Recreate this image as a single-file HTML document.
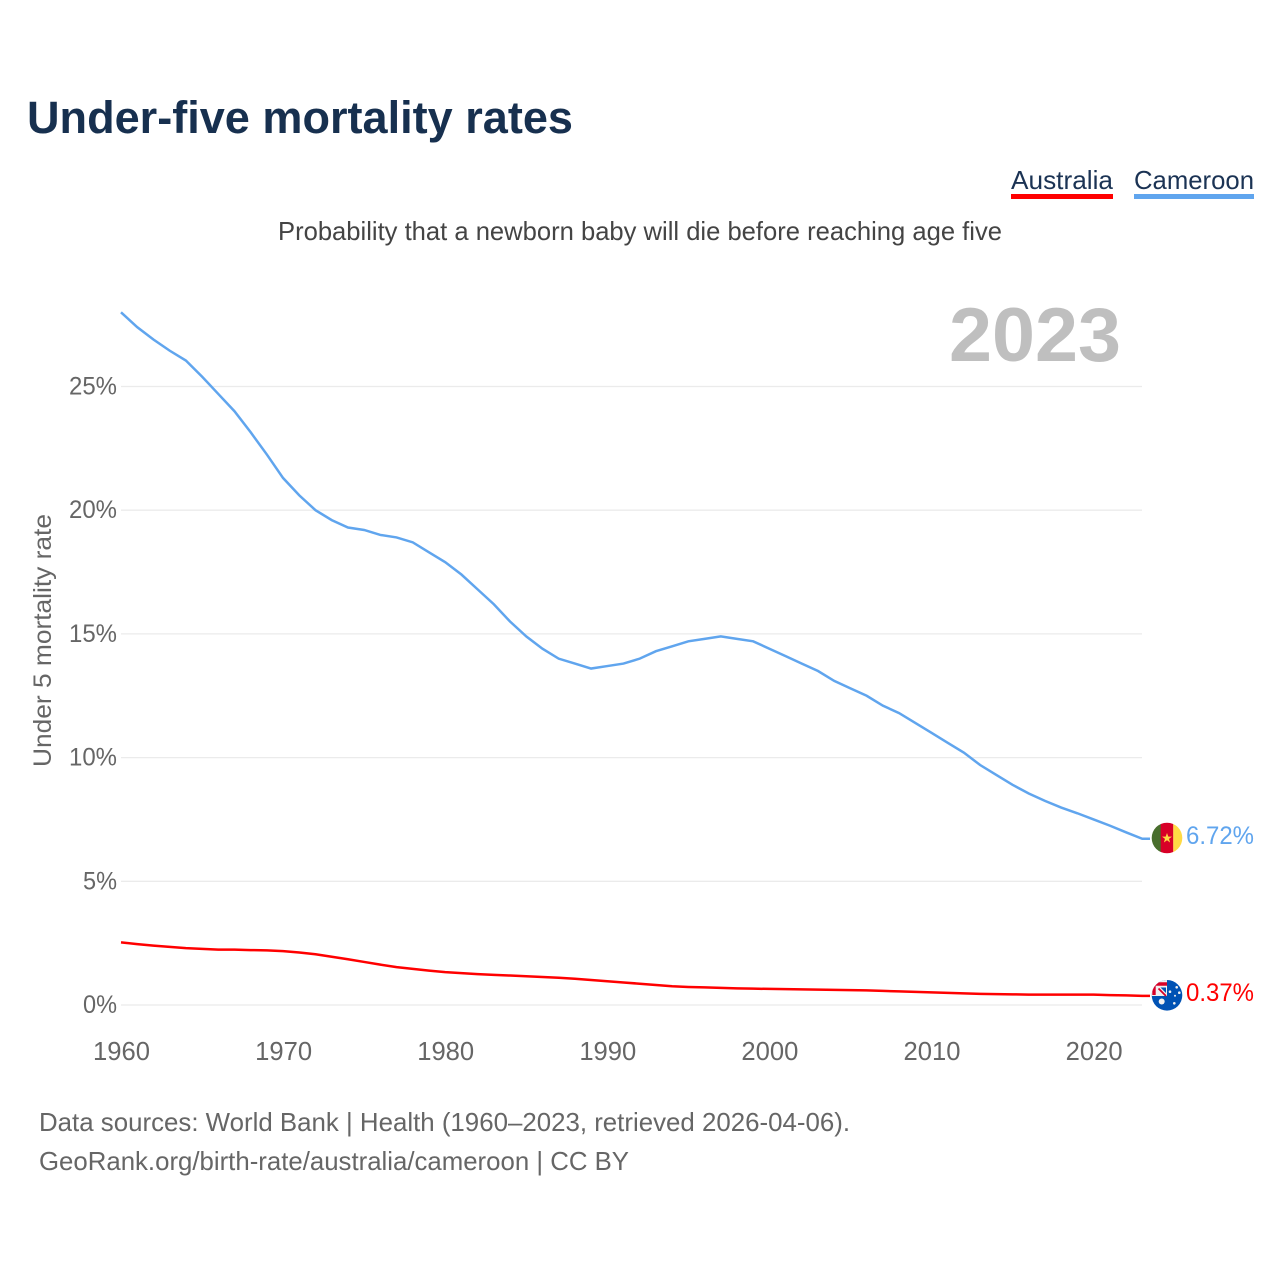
<!DOCTYPE html>
<html lang="en">
<head>
<meta charset="utf-8">
<title>Under-five mortality rates</title>
<style>
html,body{margin:0;padding:0;background:#fff;}
svg{display:block;}
text{font-family:"Liberation Sans",sans-serif;}
</style>
</head>
<body>
<svg id="chart" width="1280" height="1280" viewBox="0 0 1280 1280" xmlns="http://www.w3.org/2000/svg">
  <rect x="0" y="0" width="1280" height="1280" fill="#ffffff"/>
  <text x="27" y="133" font-size="45" font-weight="700" fill="#17304f" textLength="546" lengthAdjust="spacingAndGlyphs">Under-five mortality rates</text>

  <g>
    <text x="1011" y="189" font-size="26" fill="#1b3354" textLength="102" lengthAdjust="spacingAndGlyphs">Australia</text>
    <rect x="1011" y="194" width="102" height="5" fill="#ff0000"/>
  </g>
  <g>
    <text x="1134" y="189" font-size="26" fill="#1b3354" textLength="120" lengthAdjust="spacingAndGlyphs">Cameroon</text>
    <rect x="1134" y="194" width="120" height="5" fill="#60a5ee"/>
  </g>

  <text x="278" y="240" font-size="26" fill="#444444" textLength="724" lengthAdjust="spacingAndGlyphs">Probability that a newborn baby will die before reaching age five</text>

  <g id="grid"></g>
  <g id="yticks"></g>
  <g id="xticks"></g>

  <text transform="translate(51 767) rotate(-90)" x="0" y="0" font-size="25" fill="#666666" textLength="253" lengthAdjust="spacingAndGlyphs">Under 5 mortality rate</text>

  <text x="949" y="361" font-size="76" font-weight="700" fill="#bfbfbf" textLength="172" lengthAdjust="spacingAndGlyphs">2023</text>

  <g id="series"></g>

  <g>
    <clipPath id="clip-cm"><circle cx="1167" cy="838" r="15.3"/></clipPath>
    <g clip-path="url(#clip-cm)">
      <rect x="1151" y="822" width="10" height="32" fill="#496e2d"/>
      <rect x="1160.7" y="822" width="12.6" height="32" fill="#d80027"/>
      <rect x="1173.3" y="822" width="10" height="32" fill="#ffda44"/>
    </g>
    <polygon points="1167,833 1168.3,836.6 1172,836.6 1169,838.9 1170.1,842.5 1167,840.3 1163.9,842.5 1165,838.9 1162,836.6 1165.7,836.6" fill="#ffda44"/>
  </g>

  <g>
    <clipPath id="clip-au"><circle cx="1167" cy="995.3" r="15.3"/></clipPath>
    <g clip-path="url(#clip-au)">
      <rect x="1151" y="979" width="32" height="32" fill="#0052b4"/>
      <rect x="1151" y="979" width="16" height="17" fill="#f0f0f0"/>
      <path d="M1154 995 V984 H1167" stroke="#d80027" stroke-width="3.4" fill="none"/>
      <path d="M1158 988 H1165 V995 H1158 Z" fill="#f0f0f0"/>
      <path d="M1158.5 988.5 L1166 996" stroke="#d80027" stroke-width="1.8"/>
      <path d="M1160.5 987.5 L1166 993 V987.5 Z" fill="#0052b4"/>
    </g>
    <circle cx="1161.7" cy="1001.5" r="3" fill="#f0f0f0"/>
    <circle cx="1170" cy="991.7" r="1.3" fill="#f0f0f0"/>
    <circle cx="1176.7" cy="987.3" r="1.3" fill="#f0f0f0"/>
    <circle cx="1179.3" cy="992.7" r="1.3" fill="#f0f0f0"/>
    <circle cx="1174.3" cy="1003.3" r="1.3" fill="#f0f0f0"/>
    <circle cx="1175" cy="995.7" r="1" fill="#f0f0f0"/>
  </g>

  <text x="1186" y="844" font-size="25" fill="#60a5ee" textLength="68" lengthAdjust="spacingAndGlyphs">6.72%</text>
  <text x="1186" y="1001" font-size="25" fill="#ff0000" textLength="68" lengthAdjust="spacingAndGlyphs">0.37%</text>

  <text x="39" y="1131" font-size="26" fill="#666666" textLength="811" lengthAdjust="spacingAndGlyphs">Data sources: World Bank | Health (1960–2023, retrieved 2026-04-06).</text>
  <text x="39" y="1170" font-size="26" fill="#666666" textLength="590" lengthAdjust="spacingAndGlyphs">GeoRank.org/birth-rate/australia/cameroon | CC BY</text>
</svg>
<script>
const startYear = 1960;
const cameroonValues = [28.0,27.4,26.9,26.45,26.05,25.4,24.7,24.0,23.15,22.25,21.3,20.6,20.0,19.6,19.3,19.2,19.0,18.9,18.7,18.3,17.9,17.4,16.8,16.2,15.5,14.9,14.4,14.0,13.8,13.6,13.7,13.8,14.0,14.3,14.5,14.7,14.8,14.9,14.8,14.7,14.4,14.1,13.8,13.5,13.1,12.8,12.5,12.1,11.8,11.4,11.0,10.6,10.2,9.7,9.3,8.9,8.55,8.25,7.98,7.75,7.5,7.25,6.98,6.72];
const australiaValues = [2.53,2.46,2.40,2.35,2.30,2.27,2.24,2.24,2.22,2.21,2.18,2.12,2.05,1.95,1.85,1.74,1.63,1.53,1.46,1.39,1.33,1.29,1.25,1.22,1.19,1.16,1.13,1.10,1.06,1.01,0.96,0.91,0.86,0.81,0.76,0.73,0.71,0.69,0.67,0.66,0.65,0.64,0.63,0.62,0.61,0.60,0.59,0.57,0.55,0.53,0.51,0.49,0.47,0.45,0.44,0.43,0.42,0.42,0.42,0.42,0.42,0.40,0.39,0.37];
const yTickValues = [0,5,10,15,20,25];
const yTickLabels = ["0%","5%","10%","15%","20%","25%"];
const xTickValues = [1960,1970,1980,1990,2000,2010,2020];
const xTickLabels = ["1960","1970","1980","1990","2000","2010","2020"];

const NS = "http://www.w3.org/2000/svg";
const xScale = function (year) { return 121 + (year - 1960) * 16.21; };
const yScale = function (value) { return 1005 - value * 24.74; };

const gridGroup = document.getElementById("grid");
const yGroup = document.getElementById("yticks");
const xGroup = document.getElementById("xticks");
const seriesGroup = document.getElementById("series");

yTickValues.forEach(function (v, i) {
  const line = document.createElementNS(NS, "line");
  
  
  line.setAttribute("x1", 121);
  line.setAttribute("x2", 1142);
  line.setAttribute("y1", yScale(v));
  line.setAttribute("y2", yScale(v));
  line.setAttribute("stroke", "#ebebeb");
  line.setAttribute("stroke-width", "1.3");
  gridGroup.appendChild(line);

  const label = document.createElementNS(NS, "text");
  
  
  label.setAttribute("x", 117);
  label.setAttribute("y", yScale(v) + 8);
  label.setAttribute("text-anchor", "end");
  label.setAttribute("font-size", "25");
  label.setAttribute("fill", "#666666");
  label.setAttribute("textLength", 14 * yTickLabels[i].length + 6);
  label.setAttribute("lengthAdjust", "spacingAndGlyphs");
  label.textContent = yTickLabels[i];
  yGroup.appendChild(label);
});

xTickValues.forEach(function (v, i) {
  const label = document.createElementNS(NS, "text");
  
  
  label.setAttribute("x", xScale(v) + 0.5);
  label.setAttribute("y", 1060);
  label.setAttribute("text-anchor", "middle");
  label.setAttribute("font-size", "25.6");
  label.setAttribute("fill", "#666666");
  label.textContent = xTickLabels[i];
  xGroup.appendChild(label);
});

function linePath(values) {
  let d = values.map(function (v, i) {
    return (i ? "L" : "M") + xScale(startYear + i).toFixed(2) + " " + yScale(v).toFixed(2);
  }).join(" ");
  d += " H1150";
  return d;
}

const australiaLine = document.createElementNS(NS, "path");


australiaLine.setAttribute("d", linePath(australiaValues));
australiaLine.setAttribute("fill", "none");
australiaLine.setAttribute("stroke", "#ff0000");
australiaLine.setAttribute("stroke-width", "2.5");
seriesGroup.appendChild(australiaLine);

const cameroonLine = document.createElementNS(NS, "path");


cameroonLine.setAttribute("d", linePath(cameroonValues));
cameroonLine.setAttribute("fill", "none");
cameroonLine.setAttribute("stroke", "#60a5ee");
cameroonLine.setAttribute("stroke-width", "2.5");
seriesGroup.appendChild(cameroonLine);
</script>
</body>
</html>
